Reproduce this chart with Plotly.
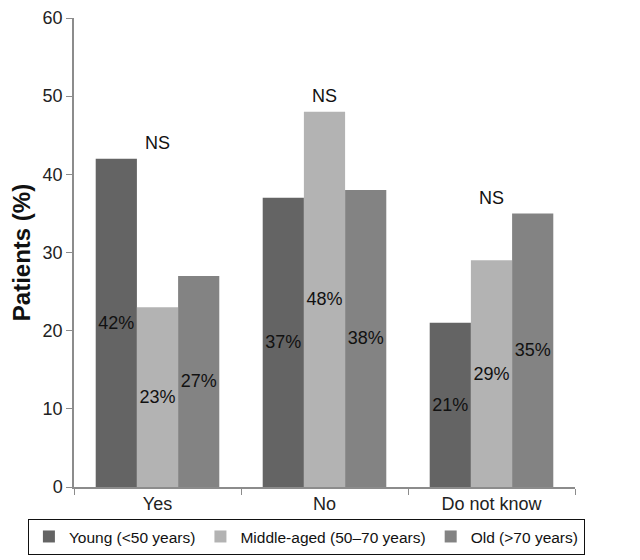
import plotly.graph_objects as go

categories = ["Yes", "No", "Do not know"]
series_names = ["Young (<50 years)", "Middle-aged (50–70 years)", "Old (>70 years)"]
young = [42, 37, 21]
middle = [23, 48, 29]
old = [27, 38, 35]
colors = ["#646464", "#b3b3b3", "#838383"]
sig_labels = ["NS", "NS", "NS"]
y_ticks = [0, 10, 20, 30, 40, 50, 60]

FONT = "Liberation Sans"

fig = go.Figure()
for name, vals, col in zip(series_names, [young, middle, old], colors):
    fig.add_trace(go.Bar(
        x=categories, y=vals, name=name,
        marker=dict(color=col, line=dict(width=0)),
        text=[f"{v}%" for v in vals],
        textposition="inside", insidetextanchor="middle",
        textfont=dict(color="#111111", size=18, family=FONT),
        textangle=0,
    ))

all_series = [young, middle, old]
for i, cat in enumerate(categories):
    top = max(s[i] for s in all_series)
    fig.add_annotation(x=cat, y=top + 2, text=sig_labels[i], showarrow=False,
                       yanchor="middle", font=dict(size=18, color="#111111", family=FONT))

fig.update_layout(
    width=640, height=560,
    margin=dict(l=66, r=73, t=10, b=81, autoexpand=False),
    paper_bgcolor="white", plot_bgcolor="white",
    barmode="group", bargap=0.26, bargroupgap=0,
    font=dict(family=FONT, size=15, color="#111111"),
    showlegend=True,
    legend=dict(orientation="h", x=-0.092, xanchor="left", y=-0.068, yanchor="top",
                bordercolor="#111111", borderwidth=1, font=dict(size=15.5),
                itemwidth=30, tracegroupgap=0),
    uniformtext=dict(mode="show", minsize=18),
)
fig.update_yaxes(range=[0, 60], tickvals=y_ticks, showgrid=False, zeroline=False,
                 showline=True, linecolor="#8c8c8c", linewidth=1.5,
                 ticks="outside", ticklen=6, tickcolor="#8c8c8c",
                 ticklabeloverflow="allow",
                 tickfont=dict(size=18, color="#222222"),
                 title=dict(text="<b>Patients (%)</b>", font=dict(size=24, color="#111111"), standoff=14))
fig.update_xaxes(showgrid=False, showline=True, linecolor="#8c8c8c", linewidth=1.5,
                 ticks="outside", tickson="boundaries", ticklen=6, tickcolor="#8c8c8c",
                 tickfont=dict(size=18, color="#222222"))

fig.write_html("out.html")
